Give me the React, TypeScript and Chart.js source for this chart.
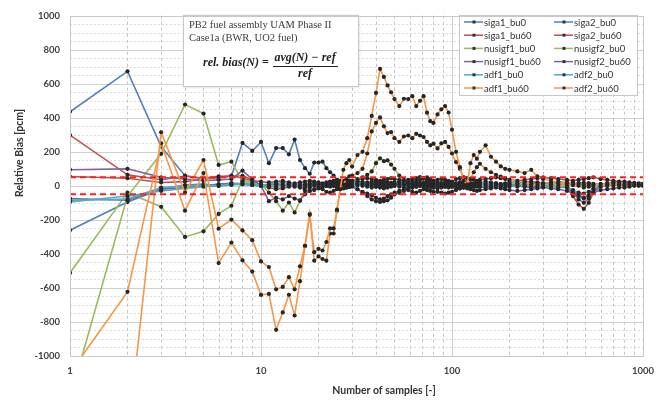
import React, { useEffect, useRef } from "react";
import { Chart, registerables } from "chart.js";
Chart.register(...registerables);

// Number of samples N at which the running bias is plotted
const sampleN = [
  1, 2, 3, 4, 5, 6, 7, 8, 9, 10,
  11, 12, 13, 14, 15, 16, 17, 18, 19, 20,
  21, 22, 23, 24, 25, 26, 27, 28, 29, 30,
  32, 34, 36, 38, 40, 42, 44, 46, 48, 50,
  53, 56, 59, 62, 65, 68, 71, 74, 77, 80,
  84, 88, 92, 96, 100,
  105, 110, 115, 120, 125, 130, 135, 140, 150, 160, 170, 180, 190, 200,
  220, 240, 260, 280, 300, 330, 360, 400, 430, 460, 490, 520, 550, 600, 650, 700, 750, 800, 850, 900, 950, 1000,
];

const siga1_bu0 = [
  435, 673, 231, 60, 40, 50, 56, 252, 205, 258,
  133, 222, 222, 185, 272, 152, 104, 71, 137, 137,
  142, 104, 80, 60, 35, 30, 28, 25, 30, 28,
  25, 22, 20, 24, 28, 25, 22, 20, 18, 20,
  22, 18, 15, 18, 20, 15, 18, 20, 15, 12,
  15, 12, 10, 14, 12,
  10, 12, 8, 10, 14, 12, 10, 8, 10, 12, 10, 8, 10, 9,
  10, 12, 10, 8, 10, 12, 15, 12, 14, 16, 18, 15, 12, 10, 12, 10, 8, 10, 12, 10, 8, 10,
];
const siga2_bu0 = [
  -261, -95, -20, 5, 10, 0, 15, 10, 5, 8,
  5, 10, 8, 0, 5, 10, 5, 0, 5, 8,
  10, 5, 0, 5, 8, 10, 12, 8, 5, 10,
  12, 8, 5, 10, 15, 12, 8, 5, 10, 12,
  8, 5, 0, -5, 0, 5, 8, 10, 5, 0,
  -5, 0, 5, 8, 5,
  0, -5, -10, -5, 0, 5, 8, 5, 0, -5, 0, 5, 10, 8,
  5, 0, -5, 0, 5, 8, 5, -5, -30, -60, -75, -55, -20, 0, 5, 8, 10, 8, 5, 8, 10, 10,
];
const siga1_bu60 = [
  298, 65, 36, 56, 46, 56, 56, 59, 36, 0,
  -10, -20, -15, -5, 0, -10, -20, -30, -25, -15,
  -20, -35, -40, -30, -20, -10, 0, 10, 5, -5,
  -20, -35, -45, -55, -70, -80, -75, -60, -50, -40,
  -30, -20, -25, -35, -40, -30, -20, -25, -30, -35,
  -35, -40, -45, -40, -35,
  -25, -15, -5, 0, 5, 10, 15, 10, 5, 0, -5, 0, 5, 10,
  15, 20, 25, 20, 15, 10, 5, -10, -60, -110, -135, -100, -40, 0, 10, 15, 12, 10, 12, 10, 8, 10,
];
const siga2_bu60 = [
  55, 45, 20, 25, 40, 50, 60, 45, 30, 25,
  20, 25, 30, 20, 15, 20, 25, 30, 25, 20,
  15, 20, 25, 30, 35, 30, 25, 20, 25, 30,
  35, 40, 45, 40, 35, 30, 35, 40, 45, 40,
  35, 30, 35, 40, 45, 50, 45, 40, 35, 30,
  35, 40, 35, 30, 25,
  40, 45, 50, 45, 40, 35, 30, 35, 40, 45, 50, 45, 40, 35,
  30, 35, 40, 45, 50, 45, 40, 35, 30, 35, 40, 45, 50, 40, 35, 30, 25, 25, 20, 18, 15, 12,
];
const nusigf1_bu0 = [
  -512, -40, -123, -300, -267, -165, -117, 36, 20, 10,
  -40, -90, -146, -98, -156, -88, -31, -10, 0, 10,
  10, 15, 20, 15, 10, 20, 30, 25, 20, 30,
  40, 50, 65, 85, 133, 162, 145, 150, 125, 100,
  60, 35, 25, 20, 25, 35, 45, 50, 40, 30,
  20, 15, 10, 5, 10,
  15, 20, 15, 10, 5, 0, 5, 10, 15, 10, 5, 0, 5, 10,
  15, 10, 5, 0, 5, 10, 15, 10, 5, 0, -10, -5, 0, 5, 10, 15, 10, 5, 8, 10, 8, 10,
];
const nusigf2_bu0 = [
  -1250, -60, 188, 478, 425, 123, 142, 27, 10, 5,
  0, -10, -5, 5, 10, 0, -10, -5, 5, 10,
  5, 0, 10, 20, 15, 10, 5, 0, -5, 0,
  5, 10, 15, 10, 5, 0, -5, 0, 5, 10,
  15, 20, 25, 30, 40, 50, 45, 35, 30, 25,
  20, 15, 10, 5, 0,
  -5, 0, 5, 10, 5, 0, -5, 0, 5, 10, 15, 10, 5, 0,
  -5, 0, 5, 10, 5, 0, -5, 0, 5, 10, 5, 0, 5, 10, 8, 5, 8, 10, 12, 10, 8, 10,
];
const nusigf1_bu60 = [
  95, 100, 50, 40, 30, 35, 40, 90, 40, 0,
  -90, -70, -80, -60, -75, -85, -50, -30, -20, -10,
  -5, 0, 5, 0, -10, -20, -15, -10, -5, 0,
  -20, -40, -60, -80, -90, -95, -90, -85, -70, -50,
  -40, -30, -20, -10, -5, 0, 5, 0, -5, -10,
  -5, 0, 5, 0, -5,
  -10, -5, 0, 5, 10, 5, 0, -5, -10, -5, 0, 5, 10, 5,
  0, -5, -10, -5, 0, 5, 10, -5, -40, -80, -100, -75, -30, 0, 5, 10, 8, 5, 8, 8, 6, 8,
];
const nusigf2_bu60 = [
  -75, -85, -20, -10, 0, 10, 15, 10, 5, 0,
  5, 10, 5, 0, -5, 0, 5, 10, 5, 0,
  -5, 0, 5, 10, 5, 0, -5, -10, -5, 0,
  5, 10, 5, 0, -5, -10, -15, -10, -5, 0,
  5, 10, 15, 10, 5, 0, -5, -10, -5, 0,
  5, 0, -5, -10, -5,
  -20, -15, -10, -15, -20, -25, -30, -25, -20, -15, -10, -15, -20, -25,
  -30, -25, -20, -15, -10, -15, -20, -30, -40, -55, -70, -60, -40, -25, -20, -15, -10, -10, -5, 0, 0, 0,
];
const adf1_bu0 = [
  -85, -78, -10, 0, 5, 0, 5, 10, 5, 0,
  -5, 0, 5, 10, 5, 0, -5, 0, 5, 10,
  5, 0, -5, 0, 5, 10, 5, 0, -5, 0,
  5, 0, -5, -10, -5, 0, 5, 10, 5, 0,
  -5, -10, -15, -10, -5, 0, 5, 0, -5, -10,
  -15, -10, -5, 0, 5,
  10, 5, 0, -5, -10, -5, 0, 5, 10, 5, 0, -5, -10, -5,
  0, 5, 10, 5, 0, -5, -10, -10, -25, -40, -45, -35, -15, -5, 0, 5, 8, 5, 3, 5, 5, 5,
];
const adf2_bu0 = [
  -95, -60, -30, -15, -5, 0, 10, 15, 10, 5,
  10, 15, 20, 15, 10, 5, 10, 15, 20, 15,
  10, 15, 20, 25, 20, 15, 10, 15, 20, 25,
  20, 15, 10, 15, 20, 25, 20, 15, 10, 15,
  20, 25, 20, 15, 10, 15, 20, 25, 20, 15,
  10, 15, 20, 15, 10,
  15, 20, 25, 20, 15, 10, 15, 20, 25, 20, 15, 10, 15, 20,
  25, 20, 15, 10, 15, 20, 25, 20, 15, 10, 5, 0, 5, 10, 15, 20, 15, 10, 12, 10, 10, 10,
];
const adf1_bu60 = [
  -1100, -623, 250, -146, 75, -454, -333, -438, -504, -641,
  -635, -846, -744, -640, -762, -560, -353, -165, -440, -415,
  -430, -440, -280, -280, -146, -12, 8, 40, 56, 60,
  75, 100, 190, 320, 370, 402, 350, 310, 316, 280,
  258, 290, 296, 280, 306, 296, 287, 258, 238, 248,
  220, 250, 258, 229, 190,
  140, 100, 50, 10, 40, 80, 110, 130, 100, 80, 65, 55, 45, 35,
  30, 20, 10, 0, 5, 10, 5, 0, 10, 5, 0, 5, 10, 5, 0, 5, 10, 8, 5, 5, 8, 10,
];
const adf2_bu60 = [
  -2000, -1500, 315, -40, 152, -252, -198, -262, -319, -444,
  -477, -608, -594, -537, -608, -473, -352, -170, -390, -370,
  -380, -330, -250, -250, -140, -20, 94, 133, 152, 113,
  181, 200, 280, 411, 546, 687, 640, 590, 550, 510,
  469, 512, 510, 527, 469, 500, 527, 430, 380, 370,
  420, 450, 469, 431, 330,
  200, 110, 30, 8, 133, 181, 160, 200, 238, 171, 142, 114, 100, 94,
  85, 75, 94, 56, 40, 30, 20, 15, 10, 5, 10, 15, 10, 5, 10, 12, 10, 8, 10, 8, 10, 10,
];

const seriesNames = [
  "siga1_bu0", "siga2_bu0", "siga1_bu60", "siga2_bu60",
  "nusigf1_bu0", "nusigf2_bu0", "nusigf1_bu60", "nusigf2_bu60",
  "adf1_bu0", "adf2_bu0", "adf1_bu60", "adf2_bu60",
];
const seriesValues = [
  siga1_bu0, siga2_bu0, siga1_bu60, siga2_bu60,
  nusigf1_bu0, nusigf2_bu0, nusigf1_bu60, nusigf2_bu60,
  adf1_bu0, adf2_bu0, adf1_bu60, adf2_bu60,
];
const seriesColors = [
  "#4F81BD", "#4F81BD", "#C0504D", "#C0504D",
  "#9BBB59", "#9BBB59", "#8064A2", "#8064A2",
  "#4BACC6", "#4BACC6", "#F79646", "#F79646",
];
const refLimits = [50, -50];
const xTickValues = [1, 10, 100, 1000];
const yMin = -1000;
const yMax = 1000;
const yStep = 200;
const yMinorStep = 50;
const titleLines = ["PB2 fuel assembly UAM Phase II", "Case1a (BWR, UO2 fuel)"];
const xTitle = "Number of samples [-]";
const yTitle = "Relative Bias [pcm]";

const gridPlugin = {
  id: "customGrid",
  beforeDatasetsDraw(chart: any) {
    const { ctx, chartArea: a, scales } = chart;
    const x = scales.x;
    const y = scales.y;
    const hline = (py: number) => {
      ctx.beginPath();
      ctx.moveTo(a.left, py);
      ctx.lineTo(a.right, py);
      ctx.stroke();
    };
    const vline = (px: number) => {
      ctx.beginPath();
      ctx.moveTo(px, a.top);
      ctx.lineTo(px, a.bottom);
      ctx.stroke();
    };
    ctx.save();
    ctx.lineWidth = 1;
    ctx.strokeStyle = "#dcdcdc";
    ctx.setLineDash([2, 2]);
    for (let v = yMin; v <= yMax; v += yMinorStep) {
      if (v % yStep === 0) continue;
      hline(Math.round(y.getPixelForValue(v)) + 0.5);
    }
    ctx.strokeStyle = "#c4c4c4";
    ctx.setLineDash([3, 3]);
    for (let d = 0; d < xTickValues.length - 1; d++) {
      for (let k = 2; k <= 9; k++) {
        vline(Math.round(x.getPixelForValue(xTickValues[d] * k)) + 0.5);
      }
    }
    ctx.setLineDash([]);
    ctx.strokeStyle = "#cfcfcf";
    for (let v = yMin; v <= yMax; v += yStep) {
      hline(Math.round(y.getPixelForValue(v)) + 0.5);
    }
    for (const t of xTickValues) {
      vline(Math.round(x.getPixelForValue(t)) + 0.5);
    }
    ctx.restore();
  },
};

const overlayPlugin = {
  id: "overlay",
  afterDraw(chart: any) {
    const { ctx, chartArea: a } = chart;
    ctx.save();
    // axis titles
    ctx.fillStyle = "#333";
    ctx.font = "bold 10.5px Lato";
    ctx.textAlign = "center";
    ctx.textBaseline = "middle";
    ctx.fillText(xTitle, 384, 391);
    ctx.save();
    ctx.translate(20, 153);
    ctx.rotate(-Math.PI / 2);
    ctx.fillText(yTitle, 0, 0);
    ctx.restore();

    // text box
    ctx.save();
    ctx.shadowColor = "rgba(0,0,0,0.18)";
    ctx.shadowBlur = 3;
    ctx.shadowOffsetX = 1;
    ctx.shadowOffsetY = 1;
    ctx.fillStyle = "#fff";
    ctx.fillRect(183, 15, 175, 71);
    ctx.restore();
    ctx.strokeStyle = "#c8c8c8";
    ctx.lineWidth = 1;
    ctx.strokeRect(183.5, 15.5, 175, 71);
    ctx.fillStyle = "#3a3a3a";
    ctx.textAlign = "left";
    ctx.font = "10.5px 'Liberation Serif'";
    ctx.fillText(titleLines[0], 189, 25);
    ctx.fillText(titleLines[1], 189, 38);
    ctx.fillStyle = "#222";
    ctx.font = "italic bold 12px 'Liberation Serif'";
    ctx.fillText("rel. bias(N) =", 203, 63);
    ctx.textAlign = "center";
    ctx.fillText("avg(N) \u2212 ref", 305, 58);
    ctx.fillText("ref", 305, 74);
    ctx.beginPath();
    ctx.moveTo(273, 66.5);
    ctx.lineTo(338, 66.5);
    ctx.lineWidth = 1;
    ctx.strokeStyle = "#222";
    ctx.stroke();

    // legend box
    ctx.fillStyle = "#fff";
    ctx.fillRect(459, 15, 178, 80);
    ctx.strokeStyle = "#c8c8c8";
    ctx.strokeRect(459.5, 15.5, 178, 80);
    ctx.font = "9.5px Lato";
    ctx.textAlign = "left";
    for (let i = 0; i < seriesNames.length; i++) {
      const row = Math.floor(i / 2);
      const col = i % 2;
      const yy = 22 + row * 13.2;
      const x0 = col === 0 ? 464 : 554;
      ctx.strokeStyle = seriesColors[i];
      ctx.lineWidth = 1.5;
      ctx.beginPath();
      ctx.moveTo(x0, yy);
      ctx.lineTo(x0 + 19, yy);
      ctx.stroke();
      ctx.fillStyle = "#333";
      ctx.fillRect(x0 + 8.5, yy - 1.5, 3, 3);
      ctx.fillStyle = "#333";
      ctx.fillText(seriesNames[i], x0 + 20, yy + 0.5);
    }
    ctx.restore();
    // plot border
    ctx.save();
    ctx.strokeStyle = "#c8c8c8";
    ctx.lineWidth = 1;
    ctx.strokeRect(Math.round(a.left) + 0.5, Math.round(a.top) + 0.5, Math.round(a.right - a.left), Math.round(a.bottom - a.top));
    ctx.restore();
  },
};

export default function App() {
  const ref = useRef<HTMLCanvasElement>(null);
  useEffect(() => {
    if (!ref.current) return;
    const datasets: any[] = seriesNames.map((name, i) => ({
      label: name,
      data: sampleN.map((n, j) => ({ x: n, y: seriesValues[i][j] })),
      borderColor: seriesColors[i],
      backgroundColor: seriesColors[i],
      borderWidth: 1.6,
      pointRadius: 2.1,
      pointBackgroundColor: "#262626",
      pointBorderColor: "#262626",
      pointBorderWidth: 0,
      tension: 0,
      order: -i,
    }));
    refLimits.forEach((v) =>
      datasets.push({
        label: "limit " + v,
        data: [
          { x: xTickValues[0], y: v },
          { x: xTickValues[xTickValues.length - 1], y: v },
        ],
        borderColor: "#FF2020",
        borderDash: [6, 4],
        borderWidth: 2,
        pointRadius: 0,
        order: -100,
      })
    );
    const tickFont = { family: "Lato", size: 9.5, weight: "bold" as const };
    const chart = new Chart(ref.current, {
      type: "line",
      data: { datasets },
      options: {
        animation: false,
        responsive: true,
        maintainAspectRatio: false,
        layout: { padding: { top: 9, right: 20, left: 0, bottom: 0 } },
        plugins: {
          legend: { display: false },
          tooltip: { enabled: false },
        },
        scales: {
          x: {
            type: "logarithmic",
            min: 1,
            max: 1000,
            grid: { display: false, drawTicks: false },
            border: { display: false },
            afterBuildTicks: (s: any) => {
              s.ticks = xTickValues.map((v) => ({ value: v }));
            },
            afterFit: (s: any) => {
              s.height = 50;
            },
            ticks: {
              autoSkip: false,
              maxRotation: 0,
              padding: 9,
              color: "#404040",
              font: tickFont,
              callback: (v: any) => String(v),
            },
          },
          y: {
            type: "linear",
            min: yMin,
            max: yMax,
            grid: { display: false, drawTicks: false },
            border: { display: false },
            afterFit: (s: any) => {
              s.width = 70;
            },
            ticks: {
              stepSize: yStep,
              padding: 10,
              color: "#404040",
              font: tickFont,
              callback: (v: any) => String(v),
            },
          },
        },
      } as any,
      plugins: [gridPlugin, overlayPlugin],
    });
    return () => chart.destroy();
  }, []);
  return (
    <div style={{ position: "fixed", left: 0, top: 0, width: 663, height: 406, background: "#fff" }}>
      <canvas ref={ref} />
    </div>
  );
}
